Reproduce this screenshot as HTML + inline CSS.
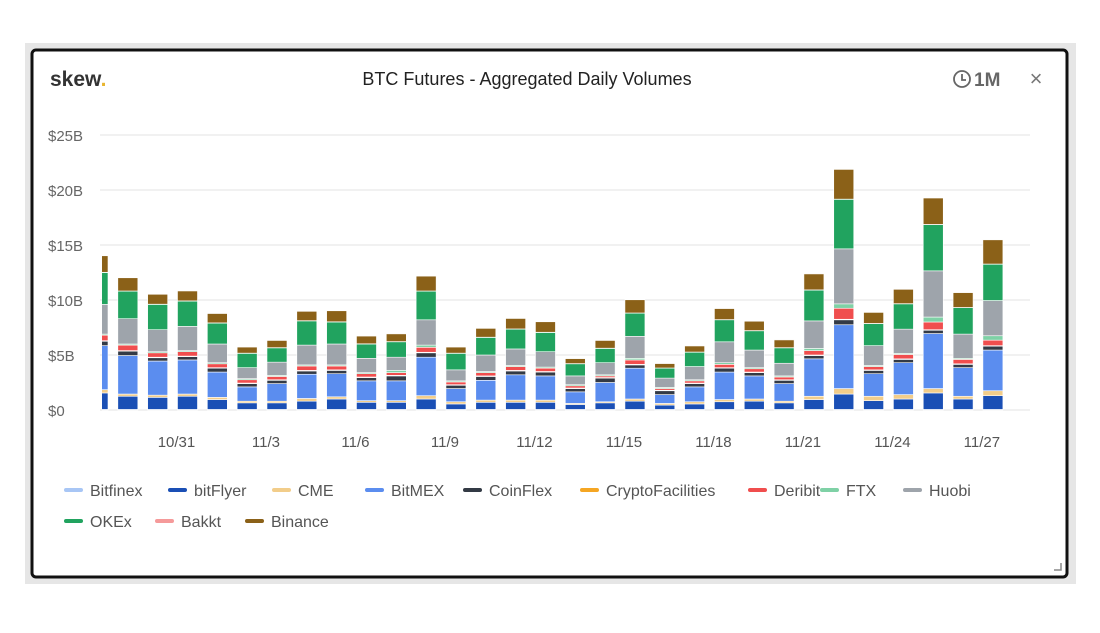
<!DOCTYPE html>
<html><head><meta charset="utf-8"><style>
body{margin:0;width:1100px;height:628px;background:#fff;font-family:"Liberation Sans",sans-serif;overflow:hidden}
svg text{font-family:"Liberation Sans",sans-serif}
</style></head><body>
<svg width="1100" height="628">
<rect x="25" y="43" width="1051" height="541" fill="#e6e6e6"/>
<rect x="32" y="50" width="1035" height="527" rx="4" fill="#fff" stroke="#111" stroke-width="3"/>
<text x="50" y="86" font-size="21" font-weight="bold" fill="#333">skew<tspan fill="#e8b530">.</tspan></text>
<text x="527" y="85" font-size="18" text-anchor="middle" fill="#222">BTC Futures - Aggregated Daily Volumes</text>
<g>
<circle cx="962" cy="79" r="8" fill="none" stroke="#666" stroke-width="1.8"/>
<path d="M962 74 V80 H966" fill="none" stroke="#666" stroke-width="1.8"/>
<text x="974" y="86" font-size="19" fill="#666" font-weight="bold">1M</text>
</g>
<text x="1036" y="86" font-size="22" fill="#777" text-anchor="middle">×</text>
<g id="grid"></g><g id="bars"></g><g id="xlab"></g><g id="legend"></g>
<path d="M1054 570 H1061 V563" fill="none" stroke="#888" stroke-width="1.5"/>
</svg>
<script>
const series=["Bitfinex","bitFlyer","CME","BitMEX","CoinFlex","CryptoFacilities","Deribit","FTX","Huobi","OKEx","Bakkt","Binance"];
const colors=["#a8c6f5","#1a4fb5","#f2cd8a","#5b8def","#333a45","#f5a623","#f04e4e","#7fd1a6","#9ea4ab","#21a35f","#f59a9a","#8b6118"];
const dates=["10/28","10/29","10/30","10/31","11/1","11/2","11/3","11/4","11/5","11/6","11/7","11/8","11/9","11/10","11/11","11/12","11/13","11/14","11/15","11/16","11/17","11/18","11/19","11/20","11/21","11/22","11/23","11/24","11/25","11/26","11/27"];
const bitfinex=Array(31).fill(0.05);
const bitFlyer=[1.5,1.2,1.1,1.2,0.9,0.6,0.6,0.75,0.95,0.65,0.65,0.95,0.5,0.65,0.65,0.65,0.45,0.6,0.75,0.4,0.5,0.7,0.75,0.6,0.9,1.4,0.8,0.95,1.5,0.95,1.25];
const cme=[0.3,0.2,0.2,0.2,0.2,0.15,0.15,0.25,0.2,0.15,0.15,0.3,0.2,0.2,0.2,0.2,0.1,0.1,0.2,0.15,0.2,0.2,0.2,0.15,0.3,0.5,0.4,0.4,0.4,0.25,0.45];
const bitmex=[4.0,3.5,3.1,3.1,2.3,1.3,1.6,2.2,2.1,1.8,1.8,3.5,1.2,1.8,2.3,2.2,1.05,1.75,2.8,0.8,1.35,2.5,2.1,1.6,3.4,5.8,2.05,2.9,5.0,2.6,3.7];
const coinflex=[0.4,0.4,0.3,0.3,0.35,0.3,0.3,0.3,0.3,0.3,0.45,0.4,0.3,0.35,0.35,0.35,0.3,0.4,0.3,0.35,0.3,0.35,0.3,0.3,0.3,0.45,0.3,0.3,0.3,0.3,0.35];
const cryptoFacilities=Array(31).fill(0.05);
const deribit=[0.5,0.5,0.4,0.4,0.35,0.3,0.3,0.4,0.35,0.3,0.25,0.45,0.25,0.3,0.35,0.3,0.2,0.15,0.4,0.15,0.2,0.3,0.3,0.25,0.4,1.0,0.3,0.4,0.7,0.4,0.5];
const ftx=[0.1,0.1,0.1,0.1,0.1,0.1,0.1,0.1,0.1,0.1,0.2,0.2,0.1,0.1,0.1,0.1,0.1,0.1,0.15,0.1,0.1,0.15,0.1,0.1,0.2,0.4,0.1,0.1,0.45,0.1,0.4];
const huobi=[2.7,2.3,2.0,2.2,1.7,1.0,1.2,1.8,1.9,1.3,1.2,2.3,1.0,1.5,1.5,1.4,0.8,1.1,2.0,0.85,1.2,1.9,1.6,1.15,2.5,5.0,1.8,2.2,4.2,2.2,3.2];
const okex=[2.9,2.5,2.3,2.3,1.9,1.3,1.3,2.2,2.0,1.3,1.4,2.6,1.5,1.6,1.8,1.75,1.1,1.3,2.1,0.9,1.3,2.0,1.75,1.4,2.8,4.5,2.0,2.3,4.2,2.4,3.3];
const bakkt=Array(31).fill(0.02);
const binance=[1.5,1.2,0.9,0.9,0.85,0.55,0.65,0.85,1.0,0.7,0.7,1.35,0.55,0.8,0.95,0.95,0.45,0.7,1.2,0.4,0.55,1.0,0.85,0.7,1.45,2.7,1.0,1.3,2.4,1.35,2.2];
const values=[bitfinex,bitFlyer,cme,bitmex,coinflex,cryptoFacilities,deribit,ftx,huobi,okex,bakkt,binance];
const yTicks=[0,5,10,15,20,25];
const yLabels=["$0","$5B","$10B","$15B","$20B","$25B"];
const xLabelIdx=[3,6,9,12,15,18,21,24,27,30];

const NS="http://www.w3.org/2000/svg";
const y0=410,pxPerB=11,plotL=102,plotR=1030;
const yS=v=>y0-v*pxPerB;
const xS=i=>98+i*29.83;
function mk(tag,attrs,parent){const e=document.createElementNS(NS,tag);for(const k in attrs)e.setAttribute(k,attrs[k]);parent.appendChild(e);return e;}
const grid=document.getElementById('grid');
yTicks.forEach((t,i)=>{
  const l=mk('line',{x1:plotL-2,x2:plotR,y1:yS(t),y2:yS(t),stroke:'#e3e3e3','stroke-width':1},grid);
  
  
  const tx=mk('text',{x:48,y:yS(t)+6,'font-size':15,fill:'#666'},grid);
  tx.textContent=yLabels[i];
  
  
});
const defs=mk('defs',{},grid);
const cp=mk('clipPath',{id:'pc'},defs);
mk('rect',{x:plotL,y:100,width:plotR-plotL,height:320},cp);
const bars=document.getElementById('bars');
bars.setAttribute('clip-path','url(#pc)');
dates.forEach((d,i)=>{
  let acc=0;
  values.forEach((arr,s)=>{
    const v=arr[i];
    const r=mk('rect',{x:xS(i)-10,y:yS(acc+v),width:20,height:v*pxPerB,fill:colors[s],stroke:'#fff','stroke-width':0.6},bars);
    
    
    acc+=v;
  });
});
const xl=document.getElementById('xlab');
xLabelIdx.forEach(i=>{
  const t=mk('text',{x:xS(i)-11,y:447,'font-size':15,fill:'#555','text-anchor':'middle'},xl);
  t.textContent=dates[i];
  
  
});
const lg=document.getElementById('legend');
const lpos=[[64,490],[168,490],[272,490],[365,490],[463,490],[580,490],[748,490],[820,490],[903,490],[64,521],[155,521],[245,521]];
series.forEach((s,i)=>{
  const g=mk('g',{},lg);
  
  
  mk('rect',{x:lpos[i][0],y:lpos[i][1]-2,width:19,height:4,rx:2,fill:colors[i]},g);
  const t=mk('text',{x:lpos[i][0]+26,y:lpos[i][1]+6,'font-size':16,fill:'#555'},g);
  t.textContent=s;
});
</script>
</body></html>
